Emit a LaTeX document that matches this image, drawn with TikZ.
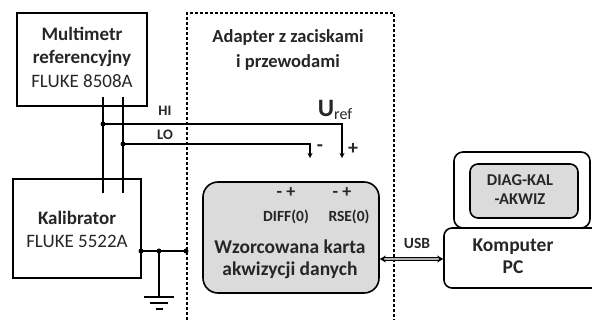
\documentclass[tikz,border=0pt]{standalone}
\usepackage{fontspec}
\setmainfont{Carlito}
\usepackage{tikz}
\usetikzlibrary{arrows.meta, positioning, calc}
\usepackage{xcolor}

\begin{document}
\begin{tikzpicture}[
  x=1pt, y=-1pt,
  dev/.style={rectangle, draw=black, line width=1.6pt},
  card/.style={rectangle, draw=black, line width=1.6pt, fill=gray!28},
  adp/.style={draw=black, line width=1.1pt, dash pattern=on 3pt off 2pt},
  wire/.style={draw=black, line width=1.2pt},
  tip/.style={-{Stealth[length=5pt,width=5pt]}},
  dot/.style={circle, fill=black, inner sep=0pt, minimum size=5pt},
  txt/.style={font=\fontsize{19}{23.5}\selectfont, text=black!85, align=center, inner sep=0pt},
  lbl/.style={font=\fontsize{14.5}{15}\selectfont\bfseries, text=black!85, inner sep=0pt}
]
\clip (0,0) rectangle (592,320);
\useasboundingbox (0,0) rectangle (592,320);

% Device positions
\node[dev, minimum width=130pt, minimum height=93pt] (multi) at (82,59.5) {};
\node[txt] at (82,57) {\textbf{Multimetr}\\\textbf{referencyjny}\\FLUKE 8508A};

\node[dev, minimum width=128pt, minimum height=99pt] (kalib) at (77,228.5) {};
\node[txt] at (77,229.5) {\textbf{Kalibrator}\\FLUKE 5522A};

\draw[adp] (187,330) |- (394,13) -- (394,330);
\node[txt, font=\fontsize{18.5}{25}\selectfont\bfseries] (adapter) at (288,49.5) {Adapter z zaciskami\\i przewodami};

\node[card, rounded corners=15pt, minimum width=176pt, minimum height=111pt] (daq) at (291,237.5) {};
\node[lbl, font=\fontsize{18}{18}\selectfont\bfseries] (diffpm) at (286,193) {- +};
\node[lbl, font=\fontsize{18}{18}\selectfont\bfseries] (rsepm) at (342,193) {- +};
\node[lbl, font=\fontsize{15.5}{15}\selectfont\bfseries] (diff) at (286,217) {DIFF(0)};
\node[lbl, font=\fontsize{15.5}{15}\selectfont\bfseries] (rse) at (349,217) {RSE(0)};
\node[txt, font=\fontsize{19.5}{22}\selectfont\bfseries] (daqtxt) at (290,259) {Wzorcowana karta\\akwizycji danych};

\node[dev, rounded corners=9pt, minimum width=136pt, minimum height=76pt] (monitor) at (522,190) {};
\node[card, rounded corners=8pt, minimum width=108pt, minimum height=54pt] (app) at (524,191) {};
\node[txt, font=\fontsize{16.5}{19}\selectfont\bfseries] at (520,189.5) {DIAG-KAL\\-AKWIZ};

\node[dev, rounded corners=8pt, minimum width=160pt, minimum height=60pt] (komp) at (524,258) {};
\node[txt, font=\fontsize{19.5}{22}\selectfont\bfseries] at (513,256) {Komputer\\PC};

% Wires
\coordinate (hiTop) at (103,97);
\coordinate (hiBot) at (103,193);
\coordinate (loTop) at (123,97);
\coordinate (loBot) at (123,193);
\coordinate (hiJ) at (103,124);
\coordinate (loJ) at (123,144);
\coordinate (hiEnd) at (342,158);
\coordinate (loEnd) at (310,158);

\draw[wire] (hiTop) -- (hiBot);
\draw[wire] (loTop) -- (loBot);
\draw[wire, tip] (hiJ) -| (hiEnd);
\draw[wire, tip] (loJ) -| (loEnd);
\node[dot] at (hiJ) {};
\node[dot] at (loJ) {};

\node[lbl] (hi) at (165,111) {HI};
\node[lbl] (lo) at (165,135) {LO};
\node[lbl, font=\fontsize{20}{20}\selectfont\bfseries] (minus) at (320,148) {-};
\node[lbl, font=\fontsize{20}{20}\selectfont\bfseries] (plus) at (353,149) {+};
\node[text=black!85, inner sep=0pt] (uref) at (335,110) {{\fontsize{25}{25}\selectfont\bfseries U}\raisebox{-3pt}{\fontsize{16}{16}\selectfont ref}};

% Ground
\coordinate (gk) at (141,251);
\coordinate (gm) at (159,251);
\coordinate (ga) at (186,251);
\coordinate (gnd) at (159,297);
\draw[wire] (gk) -- (ga);
\draw[wire] (gm) -- (gnd);
\draw[wire] ($(gnd)+(-15,0)$) -- ($(gnd)+(15,0)$);
\draw[wire] ($(gnd)+(-9,6)$) -- ($(gnd)+(9,6)$);
\draw[wire] ($(gnd)+(-3.5,12)$) -- ($(gnd)+(3.5,12)$);
\node[dot] at (gk) {};
\node[dot] at (gm) {};
\node[dot] at (ga) {};

% USB link
\coordinate (usbL) at (daq.east |- 0,259);
\coordinate (usbR) at (komp.west |- 0,259);
\draw[line width=0.9pt, double=gray!60, double distance=1.6pt, {Stealth[length=6pt,width=7pt]}-{Stealth[length=6pt,width=7pt]}] (usbL) -- (usbR);
\node[lbl, font=\fontsize{15.5}{15}\selectfont\bfseries] (usb) at (417,243) {USB};

\end{tikzpicture}
\end{document}
